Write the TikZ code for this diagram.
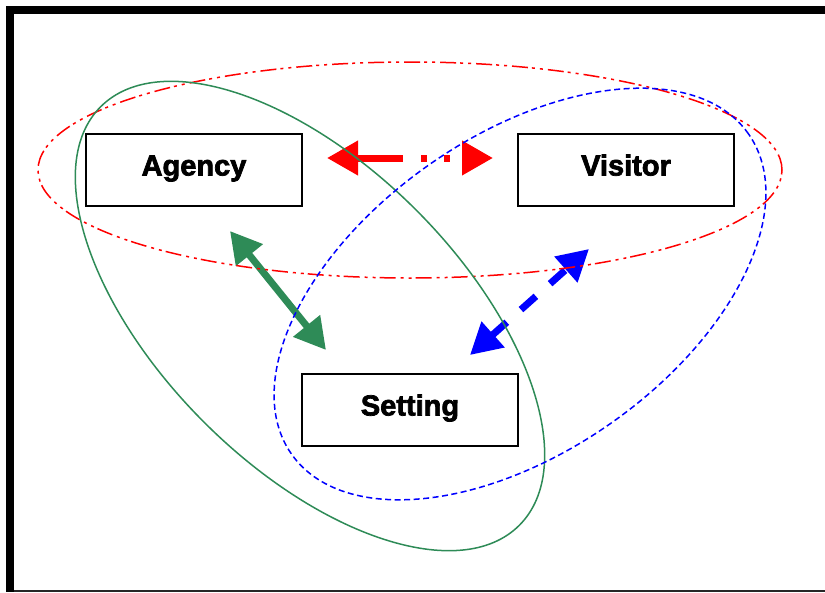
\documentclass[tikz,border=0pt]{standalone}
\usepackage{fontspec}
\setmainfont{Liberation Sans}[BoldFeatures={FakeBold=2.5}]
\usetikzlibrary{arrows.meta}
\definecolor{sgreen}{RGB}{46,139,87}
\tikzset{
  box/.style={draw=black, line width=2pt, fill=white, minimum width=216pt, minimum height=72pt,
    inner sep=0pt, text height=21pt, text depth=10pt, font=\fontsize{29}{31}\selectfont\bfseries},
  ring/.style={line width=1.5pt},
  bigtip/.style={{Triangle[length=31pt,width=33pt]}-{Triangle[length=31pt,width=33pt]}, line width=7pt}
}
\begin{document}
\begin{tikzpicture}[x=1pt,y=1pt]
\useasboundingbox (0,0) rectangle (825,-592);
% frame
\fill[black] (6,-6) rectangle (825,-14);
\fill[black] (6,-6) rectangle (14,-592);
\draw[line width=2pt, black!85] (14,-591) -- (825,-591);

% the three boxes
\node[box] (agency)  at (194,-170) {Agency};
\node[box] (visitor) at (626,-170) {Visitor};
\node[box] (setting) at (410,-410) {Setting};

% arrow end points
\coordinate (av1) at (327,-158);
\coordinate (av2) at (493,-158);
\coordinate (as1) at (230,-231);
\coordinate (as2) at (326,-350);
\coordinate (sv1) at (470,-355);
\coordinate (sv2) at (589,-249);

% arrows
\draw[bigtip, color=red, dash pattern=on 47pt off 18pt on 6pt off 17pt on 6pt off 40pt] (av1) -- (av2);
\draw[bigtip, color=sgreen] (as1) -- (as2);
\draw[bigtip, color=blue, dash pattern=on 20pt off 19pt] (sv1) -- (sv2);

% overlapping ellipses
\draw[ring, red, dash pattern=on 16pt off 5pt on 3pt off 5pt on 3pt off 4pt] (410,-170) ellipse [x radius=372, y radius=108];
\draw[ring, sgreen] (310,-316) ellipse [x radius=296, y radius=150, rotate=-45];
\draw[ring, blue, dash pattern=on 6pt off 3.5pt] (520,-294) ellipse [x radius=279, y radius=158, rotate=35];
\end{tikzpicture}
\end{document}
